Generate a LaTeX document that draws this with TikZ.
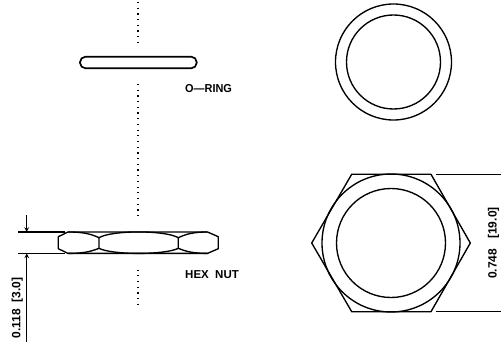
\documentclass[tikz,border=0pt]{standalone}
\usepackage{fontspec}
\setmainfont{Liberation Sans}
\tikzset{
  part/.style={line width=1.35pt,black,line join=round},
  center line/.style={line width=1.2pt,dash pattern=on 1.2pt off 4.5pt},
  extension/.style={line width=1.1pt},
  dim label/.style={font=\fontsize{12}{12}\selectfont\bfseries,inner sep=0pt},
  part label/.style={font=\fontsize{11.5}{12}\selectfont\bfseries,inner sep=0pt,anchor=west}
}
\begin{document}
\begin{tikzpicture}[x=1pt,y=-1pt]
\useasboundingbox (0,0) rectangle (501,342);
% Center line
\draw[center line] (138,2) -- (138,42);
\draw[center line] (138,84) -- (138,217);
\draw[center line] (138,269.5) -- (138,307);
% O-ring, side view
\draw[part,line width=1.7pt,rounded corners=5.5pt] (80,56.7) rectangle (196.7,68.3);
\node[part label,xscale=0.95] (oringlabel) at (185,88.3) {O---RING};
% O-ring, top view
\draw[part] (393.5,62) circle (58);
\draw[part] (393.5,62) circle (47);
% Hex nut, side view
\draw[part] (68,232) -- (207.5,232) -- (218.3,236.7) -- (218.3,248.7) -- (207.5,253.4)
  -- (68,253.4) -- (58.3,248.7) -- (58.3,236.7) -- cycle;
\draw[part] (68,232) .. controls (82,232) and (90,233.5) .. (99,237.7) -- (99,248.3)
  .. controls (90,252) and (82,253.4) .. (68,253.4);
\draw[part] (207.5,232) .. controls (195,232) and (187,233.5) .. (178.3,237.7) -- (178.3,248.3)
  .. controls (187,252) and (195,253.4) .. (207.5,253.4);
\draw[part] (99,237.7) .. controls (112,230) and (165,230) .. (178.3,237.7);
\draw[part] (99,248.3) .. controls (112,255.1) and (165,255.1) .. (178.3,248.3);
\node[part label] (hexlabel) at (185,274.3) {HEX\ \ NUT};
% Thickness dimension
\coordinate (topext) at (18,232);
\coordinate (botext) at (18,253.4);
\draw[extension] (topext) -- (65,232);
\draw[extension,line width=1.6pt] (botext) -- (65,253.4);
\draw[extension,-stealth] (26.7,215) -- (26.7,232);
\draw[extension,-stealth] (26.7,342) -- (26.7,253.4);
\node[dim label,rotate=90] (thicklabel) at (17.3,308) {0.118\ \ [3.0]};
% Hex nut, top view
\draw[part] (311.7,243) -- (351.7,174.3) -- (431,174.3) -- (470.3,243) -- (431,311.7) -- (351.7,311.7) -- cycle;
\draw[part] (391,243) circle (69);
\draw[part] (391,243) circle (54.5);
% Across flats dimension
\draw[extension] (435.7,174.3) -- (501,174.3);
\draw[extension] (435.7,311.7) -- (501,311.7);
\node[dim label,rotate=90] (flatlabel) at (493.5,243) {0.748\ \ \ [19.0]};
\end{tikzpicture}
\end{document}
